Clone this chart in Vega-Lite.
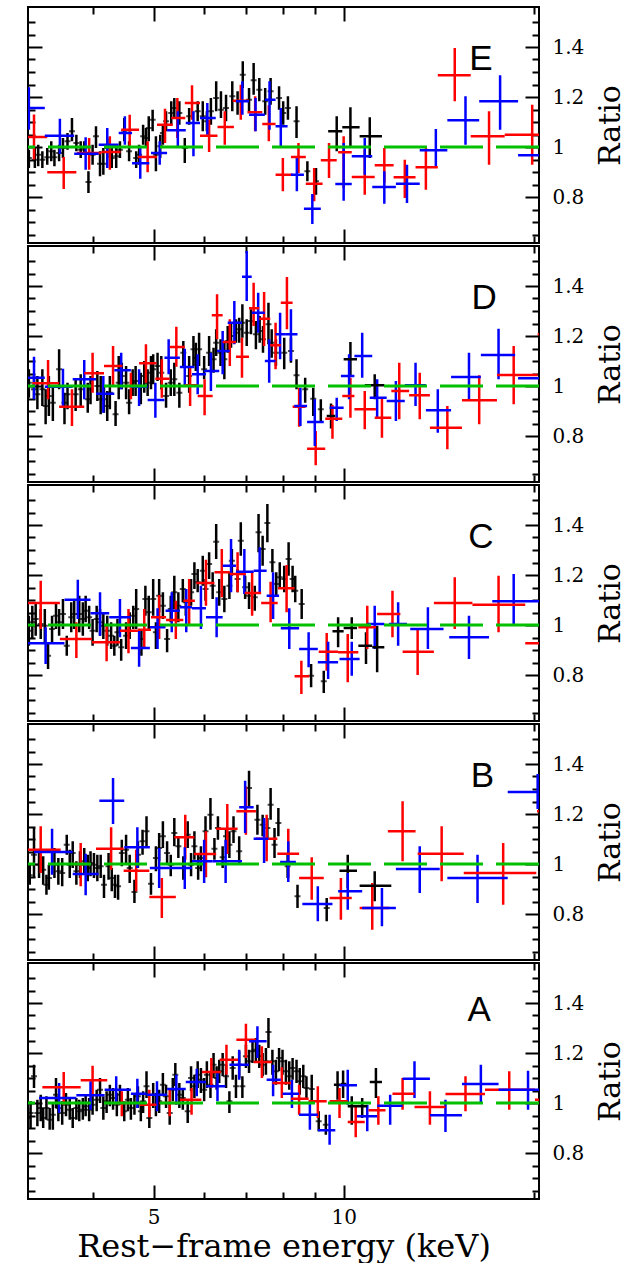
{
"$schema":"https://vega.github.io/schema/vega-lite/v6.json",
"background":"white",
"padding":{"left":25,"top":5,"right":5,"bottom":0},
"spacing":3,
"bounds":"flush",
"config":{"view":{"stroke":"#000000","strokeWidth":2},"axis":{"grid":false,"domain":false}},
"datasets":{
"E":[
{"s":"k","x":3.17,"y":0.956,"ylo":0.916,"yhi":0.989},{"s":"k","x":3.24,"y":0.949,"ylo":0.916,"yhi":0.996},{"s":"k","x":3.28,"y":0.969,"ylo":0.923,"yhi":1.009},{"s":"k","x":3.33,"y":0.949,"ylo":0.916,"yhi":0.983},{"s":"k","x":3.39,"y":0.959,"ylo":0.929,"yhi":0.996},{"s":"k","x":3.44,"y":0.983,"ylo":0.943,"yhi":1.023},{"s":"k","x":3.48,"y":0.959,"ylo":0.923,"yhi":0.989},{"s":"k","x":3.54,"y":0.976,"ylo":0.943,"yhi":1.009},{"s":"k","x":3.59,"y":0.996,"ylo":0.956,"yhi":1.036},{"s":"k","x":3.65,"y":1.023,"ylo":0.989,"yhi":1.056},{"s":"k","x":3.71,"y":1.063,"ylo":1.023,"yhi":1.116},{"s":"k","x":3.77,"y":1.016,"ylo":0.983,"yhi":1.049},{"s":"k","x":3.83,"y":0.989,"ylo":0.956,"yhi":1.023},{"s":"k","x":3.88,"y":0.996,"ylo":0.969,"yhi":1.023},{"s":"k","x":3.94,"y":0.86,"ylo":0.816,"yhi":0.903},{"s":"k","x":4.0,"y":0.969,"ylo":0.929,"yhi":1.009},{"s":"k","x":4.05,"y":1.043,"ylo":0.996,"yhi":1.083},{"s":"k","x":4.11,"y":0.933,"ylo":0.883,"yhi":0.983},{"s":"k","x":4.16,"y":0.933,"ylo":0.889,"yhi":0.996},{"s":"k","x":4.22,"y":0.996,"ylo":0.956,"yhi":1.036},{"s":"k","x":4.29,"y":0.956,"ylo":0.916,"yhi":0.996},{"s":"k","x":4.36,"y":0.963,"ylo":0.916,"yhi":1.009},{"s":"k","x":4.42,"y":0.989,"ylo":0.956,"yhi":1.023},{"s":"k","x":4.49,"y":1.065,"ylo":1.023,"yhi":1.116},{"s":"k","x":4.57,"y":0.983,"ylo":0.943,"yhi":1.023},{"s":"k","x":4.69,"y":0.956,"ylo":0.916,"yhi":0.983},{"s":"k","x":4.74,"y":0.969,"ylo":0.929,"yhi":1.009},{"s":"k","x":4.81,"y":1.043,"ylo":1.009,"yhi":1.089},{"s":"k","x":4.86,"y":1.036,"ylo":0.996,"yhi":1.076},{"s":"k","x":4.91,"y":1.076,"ylo":1.023,"yhi":1.123},{"s":"k","x":4.98,"y":1.109,"ylo":1.063,"yhi":1.149},{"s":"k","x":5.04,"y":0.969,"ylo":0.903,"yhi":1.043},{"s":"k","x":5.12,"y":1.003,"ylo":0.956,"yhi":1.049},{"s":"k","x":5.17,"y":1.056,"ylo":1.009,"yhi":1.089},{"s":"k","x":5.23,"y":1.103,"ylo":1.063,"yhi":1.143},{"s":"k","x":5.33,"y":1.136,"ylo":1.089,"yhi":1.183},{"s":"k","x":5.39,"y":1.156,"ylo":1.116,"yhi":1.196},{"s":"k","x":5.49,"y":1.136,"ylo":1.089,"yhi":1.183},{"s":"k","x":5.6,"y":0.996,"ylo":0.936,"yhi":1.036},{"s":"k","x":5.69,"y":1.123,"ylo":1.089,"yhi":1.156},{"s":"k","x":5.87,"y":1.143,"ylo":1.103,"yhi":1.183},{"s":"k","x":5.98,"y":1.123,"ylo":1.063,"yhi":1.183},{"s":"k","x":6.07,"y":1.103,"ylo":1.063,"yhi":1.143},{"s":"k","x":6.16,"y":1.143,"ylo":1.089,"yhi":1.196},{"s":"k","x":6.28,"y":1.196,"ylo":1.143,"yhi":1.263},{"s":"k","x":6.39,"y":1.149,"ylo":1.116,"yhi":1.223},{"s":"k","x":6.51,"y":1.156,"ylo":1.103,"yhi":1.209},{"s":"k","x":6.66,"y":1.203,"ylo":1.143,"yhi":1.263},{"s":"k","x":6.79,"y":1.183,"ylo":1.129,"yhi":1.223},{"s":"k","x":6.92,"y":1.289,"ylo":1.236,"yhi":1.343},{"s":"k","x":7.08,"y":1.189,"ylo":1.143,"yhi":1.236},{"s":"k","x":7.2,"y":1.267,"ylo":1.209,"yhi":1.336},{"s":"k","x":7.35,"y":1.229,"ylo":1.183,"yhi":1.276},{"s":"k","x":7.51,"y":1.183,"ylo":1.129,"yhi":1.236},{"s":"k","x":7.66,"y":1.223,"ylo":1.169,"yhi":1.276},{"s":"k","x":7.9,"y":1.196,"ylo":1.149,"yhi":1.243},{"s":"k","x":8.02,"y":1.136,"ylo":1.089,"yhi":1.183},{"s":"k","x":8.16,"y":1.156,"ylo":1.109,"yhi":1.203},{"s":"k","x":8.42,"y":1.103,"ylo":1.036,"yhi":1.163},{"s":"k","x":8.76,"y":0.903,"ylo":0.863,"yhi":0.943},{"s":"k","x":9.04,"y":0.863,"ylo":0.809,"yhi":0.916},
{"s":"k","x":9.75,"xlo":9.45,"xhi":9.95,"y":1.063,"ylo":0.983,"yhi":1.123},{"s":"k","x":10.25,"xlo":9.95,"xhi":10.6,"y":1.079,"ylo":0.996,"yhi":1.159},{"s":"k","x":11.0,"xlo":10.6,"xhi":11.5,"y":1.043,"ylo":0.956,"yhi":1.119},
{"s":"r","x":3.23,"xlo":3.1,"xhi":3.39,"y":1.04,"ylo":0.95,"yhi":1.13},{"s":"r","x":3.6,"xlo":3.39,"xhi":3.77,"y":0.899,"ylo":0.832,"yhi":0.96},{"s":"r","x":3.95,"xlo":3.78,"xhi":4.13,"y":0.976,"ylo":0.909,"yhi":1.036},{"s":"r","x":4.26,"xlo":4.13,"xhi":4.43,"y":0.98,"ylo":0.909,"yhi":1.043},{"s":"r","x":4.58,"xlo":4.44,"xhi":4.74,"y":1.069,"ylo":0.996,"yhi":1.129},{"s":"r","x":4.89,"xlo":4.72,"xhi":5.06,"y":0.96,"ylo":0.899,"yhi":1.023},{"s":"r","x":5.21,"xlo":5.06,"xhi":5.36,"y":1.089,"ylo":1.016,"yhi":1.153},{"s":"r","x":5.45,"xlo":5.33,"xhi":5.61,"y":1.116,"ylo":1.036,"yhi":1.196},{"s":"r","x":5.75,"xlo":5.6,"xhi":5.92,"y":1.176,"ylo":1.109,"yhi":1.247},{"s":"r","x":6.12,"xlo":5.92,"xhi":6.31,"y":1.045,"ylo":0.98,"yhi":1.109},{"s":"r","x":6.48,"xlo":6.31,"xhi":6.7,"y":1.08,"ylo":1.009,"yhi":1.143},{"s":"r","x":6.87,"xlo":6.67,"xhi":7.08,"y":1.185,"ylo":1.109,"yhi":1.249},{"s":"r","x":7.24,"xlo":7.04,"xhi":7.43,"y":1.139,"ylo":1.063,"yhi":1.203},{"s":"r","x":7.61,"xlo":7.43,"xhi":7.8,"y":1.092,"ylo":1.023,"yhi":1.167},{"s":"r","x":8.01,"xlo":7.8,"xhi":8.3,"y":0.889,"ylo":0.823,"yhi":0.956},{"s":"r","x":8.48,"xlo":8.25,"xhi":8.71,"y":0.96,"ylo":0.896,"yhi":1.016},{"s":"r","x":8.98,"xlo":8.71,"xhi":9.26,"y":0.853,"ylo":0.783,"yhi":0.916},{"s":"r","x":9.48,"xlo":9.2,"xhi":9.75,"y":0.947,"ylo":0.876,"yhi":1.016},{"s":"r","x":10.0,"xlo":9.8,"xhi":10.3,"y":0.979,"ylo":0.836,"yhi":1.043},{"s":"r","x":10.8,"xlo":10.3,"xhi":11.2,"y":0.88,"ylo":0.809,"yhi":0.989},{"s":"r","x":11.6,"xlo":11.2,"xhi":12.0,"y":0.927,"ylo":0.856,"yhi":0.996},{"s":"r","x":12.5,"xlo":12.0,"xhi":13.0,"y":0.879,"ylo":0.796,"yhi":0.949},{"s":"r","x":13.5,"xlo":13.0,"xhi":14.1,"y":0.919,"ylo":0.829,"yhi":0.996},{"s":"r","x":15.0,"xlo":14.1,"xhi":15.9,"y":1.287,"ylo":1.183,"yhi":1.396},{"s":"r","x":17.0,"xlo":15.9,"xhi":18.0,"y":1.043,"ylo":0.929,"yhi":1.143},{"s":"r","x":19.9,"xlo":18.0,"xhi":21.5,"y":1.049,"ylo":0.929,"yhi":1.169},
{"s":"b","x":3.17,"xlo":3.0,"xhi":3.36,"y":1.156,"ylo":1.069,"yhi":1.239},{"s":"b","x":3.55,"xlo":3.36,"xhi":3.74,"y":1.045,"ylo":0.972,"yhi":1.113},{"s":"b","x":3.9,"xlo":3.74,"xhi":4.09,"y":0.973,"ylo":0.909,"yhi":1.039},{"s":"b","x":4.22,"xlo":4.09,"xhi":4.4,"y":1.009,"ylo":0.916,"yhi":1.076},{"s":"b","x":4.5,"xlo":4.4,"xhi":4.62,"y":1.056,"ylo":1.009,"yhi":1.123},{"s":"b","x":4.76,"xlo":4.62,"xhi":4.92,"y":0.935,"ylo":0.873,"yhi":1.0},{"s":"b","x":5.11,"xlo":4.95,"xhi":5.25,"y":0.976,"ylo":0.929,"yhi":1.023},{"s":"b","x":5.46,"xlo":5.25,"xhi":5.62,"y":1.067,"ylo":0.996,"yhi":1.143},{"s":"b","x":5.78,"xlo":5.62,"xhi":5.92,"y":1.096,"ylo":0.963,"yhi":1.143},{"s":"b","x":6.08,"xlo":5.92,"xhi":6.27,"y":1.116,"ylo":1.049,"yhi":1.176},{"s":"b","x":6.91,"xlo":6.75,"xhi":7.08,"y":1.183,"ylo":1.129,"yhi":1.263},{"s":"b","x":7.25,"xlo":7.08,"xhi":7.5,"y":1.129,"ylo":1.063,"yhi":1.196},{"s":"b","x":7.63,"xlo":7.5,"xhi":7.8,"y":1.189,"ylo":1.069,"yhi":1.263},{"s":"b","x":7.95,"xlo":7.8,"xhi":8.15,"y":1.083,"ylo":0.996,"yhi":1.156},{"s":"b","x":8.43,"xlo":8.25,"xhi":8.65,"y":0.889,"ylo":0.823,"yhi":0.956},{"s":"b","x":8.92,"xlo":8.65,"xhi":9.2,"y":0.753,"ylo":0.692,"yhi":0.812},{"s":"b","x":10.0,"xlo":9.7,"xhi":10.3,"y":0.852,"ylo":0.785,"yhi":1.016},{"s":"b","x":10.8,"xlo":10.3,"xhi":11.1,"y":0.963,"ylo":0.889,"yhi":1.036},{"s":"b","x":11.6,"xlo":11.1,"xhi":12.1,"y":0.84,"ylo":0.773,"yhi":0.903},{"s":"b","x":12.6,"xlo":12.1,"xhi":13.2,"y":0.853,"ylo":0.776,"yhi":0.929},{"s":"b","x":14.0,"xlo":13.2,"xhi":14.6,"y":0.987,"ylo":0.916,"yhi":1.072},{"s":"b","x":15.6,"xlo":14.6,"xhi":16.4,"y":1.107,"ylo":1.009,"yhi":1.203},{"s":"b","x":17.7,"xlo":16.4,"xhi":18.9,"y":1.183,"ylo":1.069,"yhi":1.287},{"s":"b","x":21.0,"xlo":18.9,"xhi":23.0,"y":0.967,"ylo":0.9,"yhi":1.03}
],
"D":[
{"s":"k","x":3.17,"y":1.013,"ylo":0.953,"yhi":1.067},{"s":"k","x":3.23,"y":0.987,"ylo":0.947,"yhi":1.04},{"s":"k","x":3.27,"y":0.967,"ylo":0.907,"yhi":1.04},{"s":"k","x":3.33,"y":0.987,"ylo":0.92,"yhi":1.067},{"s":"k","x":3.37,"y":0.92,"ylo":0.847,"yhi":0.987},{"s":"k","x":3.41,"y":0.96,"ylo":0.88,"yhi":1.04},{"s":"k","x":3.46,"y":0.933,"ylo":0.86,"yhi":1.0},{"s":"k","x":3.54,"y":1.067,"ylo":0.987,"yhi":1.147},{"s":"k","x":3.61,"y":0.933,"ylo":0.847,"yhi":0.973},{"s":"k","x":3.65,"y":0.967,"ylo":0.907,"yhi":1.013},{"s":"k","x":3.76,"y":0.967,"ylo":0.9,"yhi":1.027},{"s":"k","x":3.83,"y":0.987,"ylo":0.92,"yhi":1.047},{"s":"k","x":3.93,"y":0.947,"ylo":0.893,"yhi":1.013},{"s":"k","x":3.97,"y":0.987,"ylo":0.927,"yhi":1.04},{"s":"k","x":4.07,"y":1.0,"ylo":0.94,"yhi":1.06},{"s":"k","x":4.12,"y":0.947,"ylo":0.887,"yhi":1.04},{"s":"k","x":4.17,"y":0.947,"ylo":0.893,"yhi":1.0},{"s":"k","x":4.22,"y":0.92,"ylo":0.86,"yhi":0.98},{"s":"k","x":4.26,"y":0.973,"ylo":0.907,"yhi":1.04},{"s":"k","x":4.35,"y":0.887,"ylo":0.84,"yhi":0.94},{"s":"k","x":4.4,"y":1.013,"ylo":0.947,"yhi":1.12},{"s":"k","x":4.45,"y":1.04,"ylo":0.987,"yhi":1.093},{"s":"k","x":4.52,"y":1.013,"ylo":0.947,"yhi":1.08},{"s":"k","x":4.57,"y":0.933,"ylo":0.887,"yhi":0.987},{"s":"k","x":4.63,"y":1.013,"ylo":0.96,"yhi":1.067},{"s":"k","x":4.68,"y":1.02,"ylo":0.96,"yhi":1.08},{"s":"k","x":4.77,"y":1.0,"ylo":0.927,"yhi":1.053},{"s":"k","x":4.83,"y":1.04,"ylo":0.973,"yhi":1.1},{"s":"k","x":4.89,"y":1.013,"ylo":0.96,"yhi":1.067},{"s":"k","x":4.95,"y":1.053,"ylo":0.987,"yhi":1.12},{"s":"k","x":4.99,"y":1.067,"ylo":1.007,"yhi":1.127},{"s":"k","x":5.07,"y":1.08,"ylo":1.02,"yhi":1.133},{"s":"k","x":5.14,"y":1.053,"ylo":0.987,"yhi":1.12},{"s":"k","x":5.23,"y":0.96,"ylo":0.913,"yhi":1.013},{"s":"k","x":5.32,"y":1.013,"ylo":0.96,"yhi":1.067},{"s":"k","x":5.39,"y":1.027,"ylo":0.96,"yhi":1.093},{"s":"k","x":5.49,"y":0.973,"ylo":0.913,"yhi":1.013},{"s":"k","x":5.57,"y":1.133,"ylo":1.08,"yhi":1.18},{"s":"k","x":5.69,"y":1.04,"ylo":0.973,"yhi":1.12},{"s":"k","x":5.78,"y":1.147,"ylo":1.08,"yhi":1.2},{"s":"k","x":5.83,"y":1.113,"ylo":1.06,"yhi":1.173},{"s":"k","x":5.9,"y":1.147,"ylo":1.08,"yhi":1.213},{"s":"k","x":6.01,"y":1.067,"ylo":1.027,"yhi":1.12},{"s":"k","x":6.12,"y":1.133,"ylo":1.08,"yhi":1.2},{"s":"k","x":6.22,"y":1.107,"ylo":1.053,"yhi":1.153},{"s":"k","x":6.28,"y":1.173,"ylo":1.12,"yhi":1.227},{"s":"k","x":6.38,"y":1.133,"ylo":1.08,"yhi":1.187},{"s":"k","x":6.47,"y":1.107,"ylo":1.027,"yhi":1.173},{"s":"k","x":6.55,"y":1.18,"ylo":1.133,"yhi":1.24},{"s":"k","x":6.63,"y":1.2,"ylo":1.153,"yhi":1.253},{"s":"k","x":6.75,"y":1.213,"ylo":1.173,"yhi":1.267},{"s":"k","x":6.83,"y":1.227,"ylo":1.173,"yhi":1.273},{"s":"k","x":6.91,"y":1.253,"ylo":1.193,"yhi":1.327},{"s":"k","x":7.02,"y":1.213,"ylo":1.16,"yhi":1.267},{"s":"k","x":7.13,"y":1.26,"ylo":1.207,"yhi":1.307},{"s":"k","x":7.26,"y":1.207,"ylo":1.147,"yhi":1.26},{"s":"k","x":7.36,"y":1.22,"ylo":1.173,"yhi":1.28},{"s":"k","x":7.45,"y":1.187,"ylo":1.133,"yhi":1.24},{"s":"k","x":7.6,"y":1.247,"ylo":1.167,"yhi":1.333},{"s":"k","x":7.69,"y":1.173,"ylo":1.113,"yhi":1.227},{"s":"k","x":7.81,"y":1.133,"ylo":1.08,"yhi":1.187},{"s":"k","x":8.05,"y":1.133,"ylo":1.067,"yhi":1.193},{"s":"k","x":8.25,"y":1.14,"ylo":1.093,"yhi":1.193},{"s":"k","x":8.42,"y":1.043,"ylo":0.987,"yhi":1.107},{"s":"k","x":8.69,"y":0.987,"ylo":0.933,"yhi":1.033},{"s":"k","x":8.95,"y":0.949,"ylo":0.88,"yhi":0.993},{"s":"k","x":9.2,"y":0.907,"ylo":0.86,"yhi":0.947},
{"s":"k","x":9.55,"xlo":9.4,"xhi":9.7,"y":0.88,"ylo":0.83,"yhi":0.93},{"s":"k","x":10.25,"xlo":10.0,"xhi":10.5,"y":1.107,"ylo":1.04,"yhi":1.176},{"s":"k","x":11.2,"xlo":10.8,"xhi":11.6,"y":1.003,"ylo":0.947,"yhi":1.047},
{"s":"r","x":3.4,"xlo":3.21,"xhi":3.54,"y":1.011,"ylo":0.947,"yhi":1.104},{"s":"r","x":3.71,"xlo":3.54,"xhi":3.88,"y":0.917,"ylo":0.84,"yhi":0.987},{"s":"r","x":4.0,"xlo":3.88,"xhi":4.17,"y":1.051,"ylo":0.973,"yhi":1.133},{"s":"r","x":4.31,"xlo":4.17,"xhi":4.46,"y":1.08,"ylo":1.0,"yhi":1.16},{"s":"r","x":4.6,"xlo":4.5,"xhi":4.75,"y":1.0,"ylo":0.947,"yhi":1.053},{"s":"r","x":4.86,"xlo":4.74,"xhi":5.05,"y":1.091,"ylo":1.013,"yhi":1.167},{"s":"r","x":5.15,"xlo":5.03,"xhi":5.3,"y":1.029,"ylo":0.953,"yhi":1.107},{"s":"r","x":5.43,"xlo":5.3,"xhi":5.6,"y":1.156,"ylo":1.077,"yhi":1.237},{"s":"r","x":5.71,"xlo":5.6,"xhi":5.87,"y":1.003,"ylo":0.92,"yhi":1.08},{"s":"r","x":6.02,"xlo":5.87,"xhi":6.2,"y":0.96,"ylo":0.883,"yhi":1.027},{"s":"r","x":6.3,"xlo":6.18,"xhi":6.43,"y":1.283,"ylo":1.187,"yhi":1.367},{"s":"r","x":6.6,"xlo":6.43,"xhi":6.75,"y":1.176,"ylo":1.08,"yhi":1.267},{"s":"r","x":6.9,"xlo":6.75,"xhi":7.08,"y":1.117,"ylo":1.033,"yhi":1.193},{"s":"r","x":7.2,"xlo":7.08,"xhi":7.35,"y":1.311,"ylo":1.24,"yhi":1.413},{"s":"r","x":7.48,"xlo":7.35,"xhi":7.65,"y":1.269,"ylo":1.16,"yhi":1.376},{"s":"r","x":7.8,"xlo":7.65,"xhi":7.95,"y":1.163,"ylo":1.067,"yhi":1.253},{"s":"r","x":8.13,"xlo":7.95,"xhi":8.3,"y":1.333,"ylo":1.227,"yhi":1.436},{"s":"r","x":8.5,"xlo":8.3,"xhi":8.7,"y":0.917,"ylo":0.837,"yhi":0.993},{"s":"r","x":9.03,"xlo":8.75,"xhi":9.35,"y":0.749,"ylo":0.683,"yhi":0.82},{"s":"r","x":9.6,"xlo":9.35,"xhi":9.95,"y":0.869,"ylo":0.789,"yhi":0.924},{"s":"r","x":10.25,"xlo":9.95,"xhi":10.4,"y":0.96,"ylo":0.873,"yhi":1.033},{"s":"r","x":10.8,"xlo":10.4,"xhi":11.25,"y":0.907,"ylo":0.827,"yhi":0.98},{"s":"r","x":11.5,"xlo":11.2,"xhi":11.9,"y":0.873,"ylo":0.793,"yhi":0.953},{"s":"r","x":12.25,"xlo":11.9,"xhi":12.7,"y":0.98,"ylo":0.867,"yhi":1.093},{"s":"r","x":13.2,"xlo":12.7,"xhi":13.7,"y":0.963,"ylo":0.867,"yhi":1.053},{"s":"r","x":14.6,"xlo":13.7,"xhi":15.4,"y":0.833,"ylo":0.747,"yhi":0.92},{"s":"r","x":16.4,"xlo":15.4,"xhi":17.5,"y":0.943,"ylo":0.847,"yhi":1.043},{"s":"r","x":18.6,"xlo":17.5,"xhi":20.3,"y":1.044,"ylo":0.927,"yhi":1.16},{"s":"r","x":21.5,"xlo":20.3,"xhi":23.0,"y":1.207,"ylo":1.1,"yhi":1.3},
{"s":"b","x":3.23,"xlo":3.1,"xhi":3.36,"y":1.033,"ylo":0.947,"yhi":1.117},{"s":"b","x":3.59,"xlo":3.36,"xhi":3.72,"y":0.997,"ylo":0.913,"yhi":1.069},{"s":"b","x":3.88,"xlo":3.72,"xhi":4.05,"y":1.027,"ylo":0.947,"yhi":1.104},{"s":"b","x":4.16,"xlo":4.05,"xhi":4.33,"y":0.969,"ylo":0.893,"yhi":1.04},{"s":"b","x":4.44,"xlo":4.33,"xhi":4.6,"y":1.063,"ylo":0.987,"yhi":1.133},{"s":"b","x":4.74,"xlo":4.6,"xhi":4.89,"y":0.997,"ylo":0.92,"yhi":1.067},{"s":"b","x":5.03,"xlo":4.89,"xhi":5.2,"y":0.944,"ylo":0.873,"yhi":1.013},{"s":"b","x":5.28,"xlo":5.2,"xhi":5.5,"y":1.113,"ylo":1.047,"yhi":1.187},{"s":"b","x":5.6,"xlo":5.5,"xhi":5.8,"y":1.076,"ylo":1.0,"yhi":1.149},{"s":"b","x":5.87,"xlo":5.75,"xhi":6.05,"y":1.047,"ylo":0.967,"yhi":1.127},{"s":"b","x":6.16,"xlo":6.0,"xhi":6.35,"y":1.06,"ylo":0.98,"yhi":1.133},{"s":"b","x":6.43,"xlo":6.3,"xhi":6.6,"y":1.14,"ylo":1.047,"yhi":1.22},{"s":"b","x":6.71,"xlo":6.55,"xhi":6.9,"y":1.253,"ylo":1.167,"yhi":1.34},{"s":"b","x":7.02,"xlo":6.9,"xhi":7.15,"y":1.437,"ylo":1.34,"yhi":1.54},{"s":"b","x":7.32,"xlo":7.15,"xhi":7.5,"y":1.293,"ylo":1.213,"yhi":1.373},{"s":"b","x":7.62,"xlo":7.5,"xhi":7.8,"y":1.1,"ylo":1.013,"yhi":1.187},{"s":"b","x":7.93,"xlo":7.8,"xhi":8.1,"y":1.207,"ylo":1.107,"yhi":1.293},{"s":"b","x":8.25,"xlo":8.1,"xhi":8.45,"y":1.207,"ylo":1.1,"yhi":1.307},{"s":"b","x":8.54,"xlo":8.35,"xhi":8.75,"y":0.92,"ylo":0.84,"yhi":0.993},{"s":"b","x":9.0,"xlo":8.75,"xhi":9.3,"y":0.856,"ylo":0.76,"yhi":0.947},{"s":"b","x":9.75,"xlo":9.5,"xhi":10.0,"y":0.913,"ylo":0.86,"yhi":0.953},{"s":"b","x":10.2,"xlo":9.9,"xhi":10.4,"y":1.04,"ylo":0.947,"yhi":1.127},{"s":"b","x":10.7,"xlo":10.4,"xhi":11.1,"y":1.12,"ylo":1.033,"yhi":1.213},{"s":"b","x":11.3,"xlo":11.0,"xhi":11.7,"y":0.953,"ylo":0.873,"yhi":1.027},{"s":"b","x":12.1,"xlo":11.7,"xhi":12.5,"y":0.94,"ylo":0.86,"yhi":1.02},{"s":"b","x":13.0,"xlo":12.5,"xhi":13.5,"y":1.003,"ylo":0.92,"yhi":1.093},{"s":"b","x":14.1,"xlo":13.5,"xhi":14.8,"y":0.903,"ylo":0.813,"yhi":0.987},{"s":"b","x":15.8,"xlo":14.8,"xhi":16.5,"y":1.036,"ylo":0.947,"yhi":1.133},{"s":"b","x":17.6,"xlo":16.5,"xhi":18.7,"y":1.124,"ylo":1.027,"yhi":1.229},{"s":"b","x":21.0,"xlo":18.9,"xhi":23.0,"y":1.031,"ylo":0.95,"yhi":1.11}
],
"C":[
{"s":"k","x":3.17,"y":0.977,"ylo":0.917,"yhi":1.037},{"s":"k","x":3.21,"y":1.011,"ylo":0.944,"yhi":1.077},{"s":"k","x":3.25,"y":1.024,"ylo":0.957,"yhi":1.091},{"s":"k","x":3.31,"y":1.004,"ylo":0.944,"yhi":1.064},{"s":"k","x":3.36,"y":0.997,"ylo":0.931,"yhi":1.064},{"s":"k","x":3.4,"y":0.877,"ylo":0.824,"yhi":0.931},{"s":"k","x":3.45,"y":0.984,"ylo":0.931,"yhi":1.037},{"s":"k","x":3.5,"y":1.037,"ylo":0.984,"yhi":1.091},{"s":"k","x":3.54,"y":1.011,"ylo":0.957,"yhi":1.064},{"s":"k","x":3.59,"y":1.044,"ylo":0.984,"yhi":1.104},{"s":"k","x":3.64,"y":0.917,"ylo":0.877,"yhi":0.957},{"s":"k","x":3.7,"y":1.031,"ylo":0.971,"yhi":1.091},{"s":"k","x":3.74,"y":1.044,"ylo":0.984,"yhi":1.104},{"s":"k","x":3.81,"y":1.044,"ylo":0.971,"yhi":1.117},{"s":"k","x":3.86,"y":1.024,"ylo":0.957,"yhi":1.091},{"s":"k","x":3.9,"y":1.057,"ylo":1.011,"yhi":1.117},{"s":"k","x":3.95,"y":1.031,"ylo":0.984,"yhi":1.077},{"s":"k","x":4.0,"y":0.977,"ylo":0.917,"yhi":1.024},{"s":"k","x":4.06,"y":1.024,"ylo":0.971,"yhi":1.077},{"s":"k","x":4.11,"y":1.011,"ylo":0.957,"yhi":1.064},{"s":"k","x":4.16,"y":0.997,"ylo":0.944,"yhi":1.051},{"s":"k","x":4.22,"y":0.977,"ylo":0.917,"yhi":1.037},{"s":"k","x":4.28,"y":0.957,"ylo":0.904,"yhi":1.011},{"s":"k","x":4.33,"y":0.917,"ylo":0.877,"yhi":0.957},{"s":"k","x":4.38,"y":0.971,"ylo":0.917,"yhi":1.024},{"s":"k","x":4.44,"y":0.911,"ylo":0.857,"yhi":0.944},{"s":"k","x":4.52,"y":0.957,"ylo":0.904,"yhi":1.011},{"s":"k","x":4.58,"y":0.997,"ylo":0.944,"yhi":1.051},{"s":"k","x":4.64,"y":1.037,"ylo":0.984,"yhi":1.077},{"s":"k","x":4.69,"y":1.064,"ylo":0.984,"yhi":1.144},{"s":"k","x":4.78,"y":0.944,"ylo":0.877,"yhi":0.984},{"s":"k","x":4.85,"y":1.104,"ylo":1.037,"yhi":1.157},{"s":"k","x":4.91,"y":1.051,"ylo":0.984,"yhi":1.117},{"s":"k","x":4.99,"y":1.104,"ylo":1.037,"yhi":1.184},{"s":"k","x":5.04,"y":0.971,"ylo":0.904,"yhi":1.011},{"s":"k","x":5.1,"y":1.117,"ylo":1.051,"yhi":1.184},{"s":"k","x":5.17,"y":1.077,"ylo":1.024,"yhi":1.131},{"s":"k","x":5.25,"y":0.944,"ylo":0.891,"yhi":0.984},{"s":"k","x":5.32,"y":1.064,"ylo":1.011,"yhi":1.117},{"s":"k","x":5.39,"y":1.131,"ylo":1.064,"yhi":1.197},{"s":"k","x":5.47,"y":1.077,"ylo":1.011,"yhi":1.131},{"s":"k","x":5.56,"y":1.144,"ylo":1.091,"yhi":1.184},{"s":"k","x":5.62,"y":1.091,"ylo":1.037,"yhi":1.144},{"s":"k","x":5.73,"y":1.131,"ylo":1.077,"yhi":1.184},{"s":"k","x":5.8,"y":1.204,"ylo":1.144,"yhi":1.251},{"s":"k","x":5.87,"y":1.171,"ylo":1.131,"yhi":1.224},{"s":"k","x":5.98,"y":1.217,"ylo":1.157,"yhi":1.277},{"s":"k","x":6.04,"y":1.144,"ylo":1.097,"yhi":1.184},{"s":"k","x":6.12,"y":1.244,"ylo":1.184,"yhi":1.291},{"s":"k","x":6.2,"y":1.157,"ylo":1.104,"yhi":1.211},{"s":"k","x":6.28,"y":1.333,"ylo":1.264,"yhi":1.404},{"s":"k","x":6.35,"y":1.131,"ylo":1.077,"yhi":1.184},{"s":"k","x":6.47,"y":1.104,"ylo":1.051,"yhi":1.157},{"s":"k","x":6.59,"y":1.157,"ylo":1.104,"yhi":1.211},{"s":"k","x":6.65,"y":1.257,"ylo":1.197,"yhi":1.304},{"s":"k","x":6.79,"y":1.184,"ylo":1.131,"yhi":1.224},{"s":"k","x":6.87,"y":1.337,"ylo":1.277,"yhi":1.411},{"s":"k","x":6.98,"y":1.151,"ylo":1.104,"yhi":1.197},{"s":"k","x":7.08,"y":1.117,"ylo":1.064,"yhi":1.171},{"s":"k","x":7.23,"y":1.111,"ylo":1.057,"yhi":1.157},{"s":"k","x":7.33,"y":1.371,"ylo":1.291,"yhi":1.444},{"s":"k","x":7.44,"y":1.304,"ylo":1.237,"yhi":1.357},{"s":"k","x":7.57,"y":1.408,"ylo":1.331,"yhi":1.484},{"s":"k","x":7.71,"y":1.251,"ylo":1.211,"yhi":1.304},{"s":"k","x":7.82,"y":1.164,"ylo":1.117,"yhi":1.211},{"s":"k","x":7.92,"y":1.191,"ylo":1.144,"yhi":1.251},{"s":"k","x":8.05,"y":1.184,"ylo":1.131,"yhi":1.237},{"s":"k","x":8.18,"y":1.264,"ylo":1.197,"yhi":1.331},{"s":"k","x":8.3,"y":1.184,"ylo":1.131,"yhi":1.237},{"s":"k","x":8.38,"y":1.137,"ylo":1.091,"yhi":1.197},{"s":"k","x":8.58,"y":1.084,"ylo":1.024,"yhi":1.144},{"s":"k","x":8.88,"y":0.797,"ylo":0.751,"yhi":0.844},{"s":"k","x":9.3,"y":0.775,"ylo":0.728,"yhi":0.817},
{"s":"k","x":9.8,"xlo":9.6,"xhi":10.0,"y":0.975,"ylo":0.911,"yhi":1.031},{"s":"k","x":10.3,"xlo":10.0,"xhi":10.5,"y":0.988,"ylo":0.944,"yhi":1.031},{"s":"k","x":10.85,"xlo":10.55,"xhi":11.1,"y":0.917,"ylo":0.844,"yhi":0.971},{"s":"k","x":11.3,"xlo":11.1,"xhi":11.6,"y":0.911,"ylo":0.811,"yhi":0.997},
{"s":"r","x":3.31,"xlo":3.1,"xhi":3.55,"y":1.088,"ylo":0.984,"yhi":1.177},{"s":"r","x":3.77,"xlo":3.55,"xhi":3.99,"y":0.944,"ylo":0.868,"yhi":1.011},{"s":"r","x":4.21,"xlo":3.99,"xhi":4.42,"y":0.931,"ylo":0.855,"yhi":1.004},{"s":"r","x":4.56,"xlo":4.42,"xhi":4.72,"y":0.977,"ylo":0.887,"yhi":1.064},{"s":"r","x":4.83,"xlo":4.72,"xhi":4.95,"y":0.981,"ylo":0.904,"yhi":1.064},{"s":"r","x":5.1,"xlo":4.95,"xhi":5.23,"y":1.031,"ylo":0.944,"yhi":1.12},{"s":"r","x":5.42,"xlo":5.23,"xhi":5.57,"y":1.02,"ylo":0.944,"yhi":1.097},{"s":"r","x":5.69,"xlo":5.57,"xhi":5.81,"y":1.097,"ylo":1.004,"yhi":1.184},{"s":"r","x":6.05,"xlo":5.84,"xhi":6.24,"y":1.168,"ylo":1.077,"yhi":1.261},{"s":"r","x":6.41,"xlo":6.24,"xhi":6.6,"y":1.211,"ylo":1.111,"yhi":1.304},{"s":"r","x":6.79,"xlo":6.6,"xhi":7.0,"y":1.204,"ylo":1.131,"yhi":1.291},{"s":"r","x":7.16,"xlo":6.97,"xhi":7.4,"y":1.128,"ylo":1.037,"yhi":1.217},{"s":"r","x":7.66,"xlo":7.4,"xhi":7.86,"y":1.088,"ylo":1.011,"yhi":1.173},{"s":"r","x":8.12,"xlo":7.87,"xhi":8.36,"y":1.147,"ylo":1.051,"yhi":1.24},{"s":"r","x":8.57,"xlo":8.36,"xhi":8.82,"y":0.795,"ylo":0.724,"yhi":0.857},{"s":"r","x":9.4,"xlo":9.13,"xhi":9.8,"y":0.893,"ylo":0.817,"yhi":0.968},{"s":"r","x":10.15,"xlo":9.8,"xhi":10.55,"y":0.891,"ylo":0.771,"yhi":0.964},{"s":"r","x":10.9,"xlo":10.55,"xhi":11.25,"y":0.991,"ylo":0.904,"yhi":1.077},{"s":"r","x":11.95,"xlo":11.3,"xhi":12.3,"y":1.044,"ylo":0.951,"yhi":1.137},{"s":"r","x":13.1,"xlo":12.4,"xhi":13.9,"y":0.893,"ylo":0.8,"yhi":0.984},{"s":"r","x":15.0,"xlo":13.9,"xhi":16.0,"y":1.088,"ylo":0.984,"yhi":1.191},{"s":"r","x":17.6,"xlo":16.0,"xhi":19.4,"y":1.081,"ylo":0.971,"yhi":1.197},{"s":"r","x":21.5,"xlo":19.4,"xhi":23.0,"y":0.927,"ylo":0.84,"yhi":1.01},
{"s":"b","x":3.37,"xlo":3.1,"xhi":3.61,"y":0.927,"ylo":0.844,"yhi":0.991},{"s":"b","x":3.79,"xlo":3.61,"xhi":3.97,"y":1.101,"ylo":1.024,"yhi":1.181},{"s":"b","x":4.11,"xlo":3.97,"xhi":4.25,"y":1.047,"ylo":0.957,"yhi":1.131},{"s":"b","x":4.42,"xlo":4.25,"xhi":4.6,"y":1.031,"ylo":0.951,"yhi":1.104},{"s":"b","x":4.74,"xlo":4.6,"xhi":4.93,"y":0.908,"ylo":0.833,"yhi":0.977},{"s":"b","x":5.07,"xlo":4.93,"xhi":5.22,"y":0.991,"ylo":0.904,"yhi":1.067},{"s":"b","x":5.34,"xlo":5.22,"xhi":5.5,"y":1.057,"ylo":0.971,"yhi":1.131},{"s":"b","x":5.63,"xlo":5.5,"xhi":5.75,"y":1.071,"ylo":0.971,"yhi":1.144},{"s":"b","x":5.94,"xlo":5.75,"xhi":6.05,"y":1.067,"ylo":0.984,"yhi":1.157},{"s":"b","x":6.29,"xlo":6.05,"xhi":6.43,"y":1.031,"ylo":0.951,"yhi":1.111},{"s":"b","x":6.63,"xlo":6.43,"xhi":6.75,"y":1.237,"ylo":1.131,"yhi":1.344},{"s":"b","x":6.96,"xlo":6.75,"xhi":7.2,"y":1.213,"ylo":1.124,"yhi":1.304},{"s":"b","x":7.36,"xlo":7.2,"xhi":7.55,"y":1.217,"ylo":1.124,"yhi":1.311},{"s":"b","x":7.73,"xlo":7.55,"xhi":7.9,"y":1.117,"ylo":1.024,"yhi":1.211},{"s":"b","x":8.2,"xlo":7.95,"xhi":8.5,"y":0.987,"ylo":0.904,"yhi":1.067},{"s":"b","x":8.8,"xlo":8.5,"xhi":9.1,"y":0.904,"ylo":0.831,"yhi":0.971},{"s":"b","x":9.45,"xlo":9.1,"xhi":9.8,"y":0.851,"ylo":0.784,"yhi":0.933},{"s":"b","x":10.3,"xlo":9.85,"xhi":10.6,"y":0.864,"ylo":0.797,"yhi":0.933},{"s":"b","x":11.2,"xlo":10.9,"xhi":11.6,"y":1.004,"ylo":0.904,"yhi":1.077},{"s":"b","x":12.2,"xlo":11.8,"xhi":12.6,"y":1.004,"ylo":0.917,"yhi":1.091},{"s":"b","x":13.6,"xlo":12.75,"xhi":14.4,"y":0.984,"ylo":0.904,"yhi":1.071},{"s":"b","x":15.8,"xlo":14.7,"xhi":17.0,"y":0.951,"ylo":0.864,"yhi":1.037},{"s":"b","x":18.6,"xlo":17.2,"xhi":21.0,"y":1.095,"ylo":0.997,"yhi":1.204}
],
"B":[
{"s":"k","x":3.18,"y":0.955,"ylo":0.917,"yhi":0.997},{"s":"k","x":3.23,"y":1.037,"ylo":0.944,"yhi":1.144},{"s":"k","x":3.29,"y":0.997,"ylo":0.944,"yhi":1.044},{"s":"k","x":3.34,"y":0.977,"ylo":0.917,"yhi":1.031},{"s":"k","x":3.38,"y":0.917,"ylo":0.877,"yhi":0.957},{"s":"k","x":3.41,"y":0.944,"ylo":0.897,"yhi":0.997},{"s":"k","x":3.48,"y":0.997,"ylo":0.944,"yhi":1.064},{"s":"k","x":3.53,"y":0.971,"ylo":0.917,"yhi":1.024},{"s":"k","x":3.58,"y":0.964,"ylo":0.911,"yhi":1.024},{"s":"k","x":3.64,"y":1.077,"ylo":1.037,"yhi":1.117},{"s":"k","x":3.68,"y":0.997,"ylo":0.944,"yhi":1.057},{"s":"k","x":3.72,"y":1.044,"ylo":0.984,"yhi":1.091},{"s":"k","x":3.77,"y":0.971,"ylo":0.917,"yhi":1.011},{"s":"k","x":3.82,"y":0.997,"ylo":0.944,"yhi":1.051},{"s":"k","x":3.88,"y":1.011,"ylo":0.957,"yhi":1.064},{"s":"k","x":3.93,"y":0.984,"ylo":0.931,"yhi":1.037},{"s":"k","x":3.97,"y":1.004,"ylo":0.951,"yhi":1.051},{"s":"k","x":4.02,"y":0.997,"ylo":0.944,"yhi":1.044},{"s":"k","x":4.07,"y":0.984,"ylo":0.931,"yhi":1.037},{"s":"k","x":4.12,"y":0.991,"ylo":0.944,"yhi":1.037},{"s":"k","x":4.17,"y":0.917,"ylo":0.864,"yhi":0.957},{"s":"k","x":4.24,"y":0.991,"ylo":0.937,"yhi":1.044},{"s":"k","x":4.29,"y":0.944,"ylo":0.891,"yhi":0.984},{"s":"k","x":4.34,"y":0.917,"ylo":0.864,"yhi":0.957},{"s":"k","x":4.39,"y":0.911,"ylo":0.857,"yhi":0.957},{"s":"k","x":4.45,"y":1.044,"ylo":0.991,"yhi":1.097},{"s":"k","x":4.52,"y":1.057,"ylo":1.004,"yhi":1.117},{"s":"k","x":4.58,"y":0.984,"ylo":0.924,"yhi":1.037},{"s":"k","x":4.66,"y":0.888,"ylo":0.844,"yhi":0.937},{"s":"k","x":4.72,"y":1.037,"ylo":0.984,"yhi":1.091},{"s":"k","x":4.8,"y":1.091,"ylo":1.037,"yhi":1.137},{"s":"k","x":4.87,"y":1.131,"ylo":1.071,"yhi":1.191},{"s":"k","x":4.95,"y":0.921,"ylo":0.877,"yhi":0.964},{"s":"k","x":5.04,"y":1.024,"ylo":0.971,"yhi":1.071},{"s":"k","x":5.1,"y":1.064,"ylo":1.011,"yhi":1.124},{"s":"k","x":5.17,"y":1.111,"ylo":1.064,"yhi":1.171},{"s":"k","x":5.25,"y":1.044,"ylo":0.997,"yhi":1.091},{"s":"k","x":5.32,"y":0.997,"ylo":0.951,"yhi":1.037},{"s":"k","x":5.39,"y":1.124,"ylo":1.071,"yhi":1.184},{"s":"k","x":5.47,"y":1.071,"ylo":1.024,"yhi":1.111},{"s":"k","x":5.57,"y":0.984,"ylo":0.937,"yhi":1.031},{"s":"k","x":5.66,"y":1.117,"ylo":1.064,"yhi":1.171},{"s":"k","x":5.73,"y":0.997,"ylo":0.951,"yhi":1.044},{"s":"k","x":5.8,"y":1.071,"ylo":1.017,"yhi":1.131},{"s":"k","x":5.88,"y":0.984,"ylo":0.937,"yhi":1.037},{"s":"k","x":5.94,"y":1.024,"ylo":0.971,"yhi":1.071},{"s":"k","x":6.04,"y":1.131,"ylo":1.071,"yhi":1.191},{"s":"k","x":6.15,"y":1.197,"ylo":1.137,"yhi":1.264},{"s":"k","x":6.24,"y":1.061,"ylo":1.017,"yhi":1.104},{"s":"k","x":6.32,"y":1.144,"ylo":1.097,"yhi":1.191},{"s":"k","x":6.43,"y":1.027,"ylo":0.984,"yhi":1.071},{"s":"k","x":6.51,"y":1.111,"ylo":1.064,"yhi":1.144},{"s":"k","x":6.59,"y":1.077,"ylo":1.024,"yhi":1.131},{"s":"k","x":6.69,"y":1.131,"ylo":1.084,"yhi":1.191},{"s":"k","x":6.83,"y":1.051,"ylo":0.997,"yhi":1.111},{"s":"k","x":7.08,"y":1.304,"ylo":1.231,"yhi":1.373},{"s":"k","x":7.3,"y":1.177,"ylo":1.117,"yhi":1.237},{"s":"k","x":7.44,"y":1.157,"ylo":1.111,"yhi":1.197},{"s":"k","x":7.57,"y":1.144,"ylo":1.097,"yhi":1.184},{"s":"k","x":7.66,"y":1.237,"ylo":1.177,"yhi":1.304},{"s":"k","x":7.77,"y":1.077,"ylo":1.024,"yhi":1.144},{"s":"k","x":7.88,"y":1.164,"ylo":1.111,"yhi":1.224},{"s":"k","x":8.15,"y":0.991,"ylo":0.944,"yhi":1.037},{"s":"k","x":8.45,"y":0.871,"ylo":0.824,"yhi":0.917},{"s":"k","x":9.4,"y":0.824,"ylo":0.771,"yhi":0.864},
{"s":"k","x":10.15,"xlo":9.85,"xhi":10.5,"y":0.973,"ylo":0.904,"yhi":1.037},{"s":"k","x":11.2,"xlo":10.6,"xhi":11.9,"y":0.913,"ylo":0.851,"yhi":0.971},
{"s":"r","x":3.31,"xlo":3.1,"xhi":3.56,"y":1.057,"ylo":0.964,"yhi":1.151},{"s":"r","x":3.83,"xlo":3.72,"xhi":3.95,"y":1.0,"ylo":0.911,"yhi":1.084},{"s":"r","x":4.28,"xlo":4.05,"xhi":4.48,"y":1.061,"ylo":0.977,"yhi":1.147},{"s":"r","x":4.69,"xlo":4.48,"xhi":4.92,"y":0.973,"ylo":0.891,"yhi":1.057},{"s":"r","x":5.15,"xlo":4.92,"xhi":5.42,"y":0.868,"ylo":0.784,"yhi":0.944},{"s":"r","x":5.61,"xlo":5.39,"xhi":5.8,"y":1.107,"ylo":1.017,"yhi":1.197},{"s":"r","x":6.05,"xlo":5.79,"xhi":6.28,"y":1.04,"ylo":0.947,"yhi":1.131},{"s":"r","x":6.54,"xlo":6.28,"xhi":6.79,"y":1.141,"ylo":1.04,"yhi":1.24},{"s":"r","x":7.0,"xlo":6.76,"xhi":7.26,"y":1.211,"ylo":1.117,"yhi":1.311},{"s":"r","x":7.55,"xlo":7.26,"xhi":7.85,"y":1.101,"ylo":1.011,"yhi":1.197},{"s":"r","x":8.17,"xlo":7.85,"xhi":8.5,"y":1.041,"ylo":0.944,"yhi":1.141},{"s":"r","x":8.9,"xlo":8.5,"xhi":9.3,"y":0.944,"ylo":0.857,"yhi":1.027},{"s":"r","x":9.9,"xlo":9.5,"xhi":10.3,"y":0.864,"ylo":0.777,"yhi":0.944},{"s":"r","x":11.1,"xlo":10.6,"xhi":11.8,"y":0.824,"ylo":0.737,"yhi":0.924},{"s":"r","x":12.4,"xlo":11.75,"xhi":13.0,"y":1.131,"ylo":1.011,"yhi":1.251},{"s":"r","x":14.3,"xlo":13.1,"xhi":15.5,"y":1.041,"ylo":0.931,"yhi":1.151},{"s":"r","x":17.9,"xlo":15.5,"xhi":20.2,"y":0.964,"ylo":0.837,"yhi":1.084},{"s":"r","x":22.0,"xlo":20.25,"xhi":24.0,"y":1.211,"ylo":1.1,"yhi":1.32},
{"s":"b","x":3.45,"xlo":3.23,"xhi":3.72,"y":1.048,"ylo":0.957,"yhi":1.141},{"s":"b","x":3.9,"xlo":3.72,"xhi":4.09,"y":0.96,"ylo":0.875,"yhi":1.041},{"s":"b","x":4.31,"xlo":4.1,"xhi":4.49,"y":1.253,"ylo":1.16,"yhi":1.344},{"s":"b","x":4.71,"xlo":4.49,"xhi":4.93,"y":1.067,"ylo":0.984,"yhi":1.147},{"s":"b","x":5.1,"xlo":4.93,"xhi":5.3,"y":0.984,"ylo":0.904,"yhi":1.064},{"s":"b","x":5.6,"xlo":5.3,"xhi":5.75,"y":0.984,"ylo":0.9,"yhi":1.067},{"s":"b","x":6.01,"xlo":5.75,"xhi":6.2,"y":1.011,"ylo":0.924,"yhi":1.097},{"s":"b","x":6.5,"xlo":6.2,"xhi":6.9,"y":1.011,"ylo":0.924,"yhi":1.097},{"s":"b","x":6.98,"xlo":6.83,"xhi":7.2,"y":1.227,"ylo":1.124,"yhi":1.333},{"s":"b","x":7.48,"xlo":7.2,"xhi":7.6,"y":1.101,"ylo":1.004,"yhi":1.184},{"s":"b","x":8.17,"xlo":7.93,"xhi":8.4,"y":1.008,"ylo":0.928,"yhi":1.091},{"s":"b","x":9.1,"xlo":8.6,"xhi":9.6,"y":0.84,"ylo":0.771,"yhi":0.911},{"s":"b","x":10.15,"xlo":9.8,"xhi":10.7,"y":0.891,"ylo":0.817,"yhi":0.964},{"s":"b","x":11.5,"xlo":10.7,"xhi":12.1,"y":0.824,"ylo":0.751,"yhi":0.904},{"s":"b","x":13.2,"xlo":12.1,"xhi":14.2,"y":0.98,"ylo":0.884,"yhi":1.071},{"s":"b","x":16.3,"xlo":14.6,"xhi":18.2,"y":0.944,"ylo":0.844,"yhi":1.037},{"s":"b","x":20.3,"xlo":18.2,"xhi":23.0,"y":1.288,"ylo":1.22,"yhi":1.36}
],
"A":[
{"s":"k","x":3.16,"y":0.94,"ylo":0.9,"yhi":0.98},{"s":"k","x":3.19,"y":0.96,"ylo":0.9,"yhi":1.007},{"s":"k","x":3.23,"y":1.107,"ylo":1.06,"yhi":1.153},{"s":"k","x":3.27,"y":0.96,"ylo":0.907,"yhi":1.013},{"s":"k","x":3.31,"y":0.98,"ylo":0.927,"yhi":1.033},{"s":"k","x":3.34,"y":0.94,"ylo":0.9,"yhi":0.98},{"s":"k","x":3.38,"y":0.98,"ylo":0.933,"yhi":1.027},{"s":"k","x":3.42,"y":0.933,"ylo":0.893,"yhi":0.98},{"s":"k","x":3.46,"y":0.953,"ylo":0.893,"yhi":1.0},{"s":"k","x":3.5,"y":1.033,"ylo":0.98,"yhi":1.1},{"s":"k","x":3.53,"y":0.98,"ylo":0.927,"yhi":1.027},{"s":"k","x":3.58,"y":0.96,"ylo":0.913,"yhi":1.007},{"s":"k","x":3.63,"y":0.993,"ylo":0.947,"yhi":1.04},{"s":"k","x":3.68,"y":0.973,"ylo":0.933,"yhi":1.02},{"s":"k","x":3.72,"y":0.94,"ylo":0.9,"yhi":0.98},{"s":"k","x":3.77,"y":0.98,"ylo":0.933,"yhi":1.02},{"s":"k","x":3.81,"y":0.967,"ylo":0.927,"yhi":1.013},{"s":"k","x":3.86,"y":0.973,"ylo":0.933,"yhi":1.02},{"s":"k","x":3.9,"y":0.987,"ylo":0.947,"yhi":1.033},{"s":"k","x":3.95,"y":0.973,"ylo":0.927,"yhi":1.02},{"s":"k","x":4.0,"y":0.993,"ylo":0.953,"yhi":1.033},{"s":"k","x":4.06,"y":1.013,"ylo":0.967,"yhi":1.053},{"s":"k","x":4.11,"y":1.053,"ylo":1.0,"yhi":1.1},{"s":"k","x":4.16,"y":0.98,"ylo":0.933,"yhi":1.027},{"s":"k","x":4.21,"y":1.007,"ylo":0.96,"yhi":1.047},{"s":"k","x":4.26,"y":1.033,"ylo":0.987,"yhi":1.073},{"s":"k","x":4.31,"y":1.02,"ylo":0.973,"yhi":1.06},{"s":"k","x":4.37,"y":0.993,"ylo":0.947,"yhi":1.04},{"s":"k","x":4.42,"y":1.033,"ylo":0.993,"yhi":1.073},{"s":"k","x":4.49,"y":0.967,"ylo":0.927,"yhi":1.007},{"s":"k","x":4.55,"y":1.013,"ylo":0.967,"yhi":1.06},{"s":"k","x":4.6,"y":0.98,"ylo":0.933,"yhi":1.02},{"s":"k","x":4.66,"y":1.0,"ylo":0.953,"yhi":1.04},{"s":"k","x":4.72,"y":1.027,"ylo":0.98,"yhi":1.067},{"s":"k","x":4.77,"y":0.967,"ylo":0.927,"yhi":1.007},{"s":"k","x":4.81,"y":1.007,"ylo":0.96,"yhi":1.047},{"s":"k","x":4.87,"y":1.067,"ylo":1.02,"yhi":1.127},{"s":"k","x":4.92,"y":0.94,"ylo":0.9,"yhi":0.987},{"s":"k","x":4.99,"y":1.033,"ylo":0.98,"yhi":1.08},{"s":"k","x":5.04,"y":0.993,"ylo":0.947,"yhi":1.04},{"s":"k","x":5.1,"y":1.007,"ylo":0.96,"yhi":1.053},{"s":"k","x":5.17,"y":1.073,"ylo":1.027,"yhi":1.12},{"s":"k","x":5.23,"y":1.027,"ylo":0.98,"yhi":1.073},{"s":"k","x":5.3,"y":0.96,"ylo":0.913,"yhi":1.007},{"s":"k","x":5.36,"y":1.053,"ylo":1.007,"yhi":1.1},{"s":"k","x":5.41,"y":1.113,"ylo":1.067,"yhi":1.16},{"s":"k","x":5.49,"y":1.033,"ylo":0.98,"yhi":1.08},{"s":"k","x":5.56,"y":1.02,"ylo":0.973,"yhi":1.06},{"s":"k","x":5.66,"y":0.967,"ylo":0.92,"yhi":1.007},{"s":"k","x":5.73,"y":1.1,"ylo":1.047,"yhi":1.147},{"s":"k","x":5.8,"y":1.067,"ylo":1.02,"yhi":1.113},{"s":"k","x":5.87,"y":1.113,"ylo":1.06,"yhi":1.167},{"s":"k","x":5.94,"y":1.093,"ylo":1.04,"yhi":1.14},{"s":"k","x":6.01,"y":1.053,"ylo":1.007,"yhi":1.1},{"s":"k","x":6.07,"y":1.113,"ylo":1.06,"yhi":1.167},{"s":"k","x":6.15,"y":1.073,"ylo":1.02,"yhi":1.127},{"s":"k","x":6.22,"y":1.153,"ylo":1.1,"yhi":1.2},{"s":"k","x":6.29,"y":1.1,"ylo":1.053,"yhi":1.147},{"s":"k","x":6.35,"y":1.127,"ylo":1.08,"yhi":1.173},{"s":"k","x":6.43,"y":1.153,"ylo":1.107,"yhi":1.2},{"s":"k","x":6.51,"y":1.107,"ylo":1.06,"yhi":1.153},{"s":"k","x":6.59,"y":1.007,"ylo":0.96,"yhi":1.047},{"s":"k","x":6.67,"y":1.14,"ylo":1.093,"yhi":1.187},{"s":"k","x":6.75,"y":1.067,"ylo":1.02,"yhi":1.113},{"s":"k","x":6.83,"y":1.153,"ylo":1.1,"yhi":1.207},{"s":"k","x":6.91,"y":1.067,"ylo":1.02,"yhi":1.107},{"s":"k","x":7.0,"y":1.187,"ylo":1.14,"yhi":1.233},{"s":"k","x":7.08,"y":1.167,"ylo":1.12,"yhi":1.213},{"s":"k","x":7.17,"y":1.207,"ylo":1.16,"yhi":1.253},{"s":"k","x":7.26,"y":1.213,"ylo":1.167,"yhi":1.26},{"s":"k","x":7.35,"y":1.187,"ylo":1.14,"yhi":1.233},{"s":"k","x":7.44,"y":1.153,"ylo":1.107,"yhi":1.2},{"s":"k","x":7.53,"y":1.167,"ylo":1.113,"yhi":1.22},{"s":"k","x":7.6,"y":1.284,"ylo":1.22,"yhi":1.34},{"s":"k","x":7.71,"y":1.167,"ylo":1.113,"yhi":1.213},{"s":"k","x":7.81,"y":1.127,"ylo":1.073,"yhi":1.173},{"s":"k","x":7.9,"y":1.18,"ylo":1.127,"yhi":1.22},{"s":"k","x":8.0,"y":1.167,"ylo":1.113,"yhi":1.213},{"s":"k","x":8.1,"y":1.127,"ylo":1.073,"yhi":1.173},{"s":"k","x":8.2,"y":1.107,"ylo":1.053,"yhi":1.167},{"s":"k","x":8.3,"y":1.14,"ylo":1.093,"yhi":1.18},{"s":"k","x":8.42,"y":1.127,"ylo":1.08,"yhi":1.173},{"s":"k","x":8.52,"y":1.087,"ylo":1.033,"yhi":1.14},{"s":"k","x":8.63,"y":1.107,"ylo":1.06,"yhi":1.153},{"s":"k","x":8.73,"y":1.06,"ylo":1.013,"yhi":1.107},{"s":"k","x":8.9,"y":1.056,"ylo":1.007,"yhi":1.113},{"s":"k","x":9.13,"y":0.927,"ylo":0.887,"yhi":0.967},{"s":"k","x":9.37,"y":0.913,"ylo":0.873,"yhi":0.953},
{"s":"k","x":9.78,"xlo":9.65,"xhi":9.9,"y":1.073,"ylo":1.013,"yhi":1.127},{"s":"k","x":9.98,"xlo":9.9,"xhi":10.1,"y":1.076,"ylo":1.02,"yhi":1.13},{"s":"k","x":10.3,"xlo":10.15,"xhi":10.5,"y":0.987,"ylo":0.913,"yhi":1.027},{"s":"k","x":10.7,"xlo":10.5,"xhi":10.9,"y":0.987,"ylo":0.94,"yhi":1.02},{"s":"k","x":11.25,"xlo":11.0,"xhi":11.5,"y":1.084,"ylo":1.02,"yhi":1.14},
{"s":"r","x":3.6,"xlo":3.33,"xhi":3.83,"y":1.063,"ylo":0.993,"yhi":1.124},{"s":"r","x":4.0,"xlo":3.83,"xhi":4.22,"y":1.091,"ylo":1.027,"yhi":1.149},{"s":"r","x":4.45,"xlo":4.35,"xhi":4.6,"y":1.0,"ylo":0.947,"yhi":1.047},{"s":"r","x":4.92,"xlo":4.75,"xhi":5.05,"y":0.993,"ylo":0.943,"yhi":1.053},{"s":"r","x":5.3,"xlo":5.1,"xhi":5.45,"y":1.0,"ylo":0.947,"yhi":1.053},{"s":"r","x":5.74,"xlo":5.5,"xhi":5.95,"y":1.013,"ylo":0.953,"yhi":1.06},{"s":"r","x":6.17,"xlo":5.96,"xhi":6.39,"y":1.124,"ylo":1.06,"yhi":1.18},{"s":"r","x":6.52,"xlo":6.36,"xhi":6.8,"y":1.173,"ylo":1.113,"yhi":1.233},{"s":"r","x":7.0,"xlo":6.76,"xhi":7.26,"y":1.253,"ylo":1.18,"yhi":1.317},{"s":"r","x":7.42,"xlo":7.2,"xhi":7.7,"y":1.164,"ylo":1.1,"yhi":1.227},{"s":"r","x":7.98,"xlo":7.71,"xhi":8.25,"y":1.08,"ylo":1.02,"yhi":1.143},{"s":"r","x":8.5,"xlo":8.25,"xhi":8.8,"y":1.017,"ylo":0.953,"yhi":1.073},{"s":"r","x":9.1,"xlo":8.8,"xhi":9.4,"y":1.007,"ylo":0.94,"yhi":1.067},{"s":"r","x":9.85,"xlo":9.5,"xhi":10.15,"y":1.007,"ylo":0.94,"yhi":1.06},{"s":"r","x":10.45,"xlo":10.15,"xhi":10.8,"y":0.924,"ylo":0.863,"yhi":0.987},{"s":"r","x":11.35,"xlo":10.95,"xhi":11.65,"y":0.971,"ylo":0.913,"yhi":1.027},{"s":"r","x":12.4,"xlo":11.95,"xhi":12.95,"y":1.037,"ylo":0.973,"yhi":1.1},{"s":"r","x":13.7,"xlo":12.95,"xhi":14.5,"y":0.984,"ylo":0.913,"yhi":1.047},{"s":"r","x":15.6,"xlo":14.5,"xhi":16.75,"y":1.036,"ylo":0.967,"yhi":1.107},{"s":"r","x":18.3,"xlo":16.75,"xhi":20.1,"y":1.053,"ylo":0.973,"yhi":1.127},{"s":"r","x":22.0,"xlo":20.1,"xhi":24.0,"y":1.013,"ylo":0.95,"yhi":1.08},
{"s":"b","x":3.54,"xlo":3.29,"xhi":3.77,"y":1.02,"ylo":0.96,"yhi":1.08},{"s":"b","x":3.97,"xlo":3.77,"xhi":4.18,"y":1.031,"ylo":0.973,"yhi":1.087},{"s":"b","x":4.36,"xlo":4.18,"xhi":4.6,"y":1.053,"ylo":1.0,"yhi":1.107},{"s":"b","x":4.71,"xlo":4.6,"xhi":4.87,"y":1.037,"ylo":0.98,"yhi":1.097},{"s":"b","x":5.06,"xlo":4.87,"xhi":5.25,"y":1.033,"ylo":0.967,"yhi":1.087},{"s":"b","x":5.43,"xlo":5.25,"xhi":5.62,"y":1.056,"ylo":0.993,"yhi":1.113},{"s":"b","x":5.85,"xlo":5.62,"xhi":6.05,"y":1.084,"ylo":1.027,"yhi":1.137},{"s":"b","x":6.31,"xlo":6.05,"xhi":6.5,"y":1.067,"ylo":1.007,"yhi":1.127},{"s":"b","x":6.83,"xlo":6.59,"xhi":7.08,"y":1.153,"ylo":1.093,"yhi":1.213},{"s":"b","x":7.3,"xlo":7.08,"xhi":7.55,"y":1.247,"ylo":1.18,"yhi":1.307},{"s":"b","x":7.73,"xlo":7.55,"xhi":7.95,"y":1.093,"ylo":1.027,"yhi":1.153},{"s":"b","x":8.28,"xlo":8.0,"xhi":8.5,"y":1.037,"ylo":0.98,"yhi":1.093},{"s":"b","x":8.84,"xlo":8.5,"xhi":9.1,"y":0.953,"ylo":0.893,"yhi":1.009},{"s":"b","x":9.5,"xlo":9.1,"xhi":9.7,"y":0.891,"ylo":0.833,"yhi":0.953},{"s":"b","x":10.15,"xlo":9.85,"xhi":10.5,"y":1.071,"ylo":0.993,"yhi":1.133},{"s":"b","x":10.9,"xlo":10.5,"xhi":11.3,"y":0.947,"ylo":0.887,"yhi":0.993},{"s":"b","x":11.85,"xlo":11.3,"xhi":12.4,"y":0.989,"ylo":0.913,"yhi":1.033},{"s":"b","x":12.95,"xlo":12.4,"xhi":13.7,"y":1.097,"ylo":1.02,"yhi":1.167},{"s":"b","x":14.5,"xlo":13.7,"xhi":15.4,"y":0.951,"ylo":0.884,"yhi":1.013},{"s":"b","x":16.5,"xlo":15.4,"xhi":17.6,"y":1.076,"ylo":1.0,"yhi":1.153},{"s":"b","x":19.6,"xlo":17.6,"xhi":21.5,"y":1.053,"ylo":0.973,"yhi":1.129}
],
"labels":[{"p":"E","x":16.5,"y":1.31,"t":"E"},{"p":"D","x":16.7,"y":1.31,"t":"D"},{"p":"C","x":16.5,"y":1.31,"t":"C"},{"p":"B","x":16.6,"y":1.31,"t":"B"},{"p":"A","x":16.4,"y":1.33,"t":"A"}],
"unity":[{"v":1}]
},
"vconcat":[
{"width":511,"height":236,"data":{"name":"E"},"layer":[
{"transform":[{"filter":"!isValid(datum.xlo)"}],"mark":{"type":"tick","orient":"horizontal","size":6,"thickness":2,"color":"#000000","clip":true},"encoding":{"x":{"field":"x","type":"quantitative","scale":{"type":"log","domain":[3.16,20.4],"nice":false},"axis":null},"y":{"field":"y","type":"quantitative","scale":{"domain":[0.616,1.56],"nice":false,"zero":false},"axis":null}}},
{"mark":{"type":"rule","strokeWidth":2.5,"clip":true},"encoding":{"x":{"field":"x","type":"quantitative","scale":{"type":"log","domain":[3.16,20.4],"nice":false},"axis":{"orient":"bottom","values":[4,5,6,7,8,9,10,20],"labels":false,"title":null,"tickColor":"#000000","tickWidth":2,"tickSize":{"condition":{"test":"datum.value==5||datum.value==10","value":-14},"value":-7}}},"y":{"field":"ylo","type":"quantitative","scale":{"domain":[0.616,1.56],"nice":false,"zero":false},"axis":{"orient":"left","values":[0.65,0.7,0.75,0.8,0.85,0.9,0.95,1,1.05,1.1,1.15,1.2,1.25,1.3,1.35,1.4,1.45,1.5],"labels":false,"title":null,"tickColor":"#000000","tickWidth":2,"tickSize":{"condition":{"test":"datum.value==0.8||datum.value==1||datum.value==1.2||datum.value==1.4","value":-14},"value":-7}}},"y2":{"field":"yhi"},"color":{"field":"s","type":"nominal","scale":{"domain":["k","r","b"],"range":["#000000","#ff0000","#0000ff"]},"legend":null}}},
{"transform":[{"filter":"isValid(datum.xlo)"}],"mark":{"type":"rule","strokeWidth":2.5,"clip":true},"encoding":{"x":{"field":"xlo","type":"quantitative","scale":{"type":"log","domain":[3.16,20.4],"nice":false},"axis":{"orient":"top","values":[4,5,6,7,8,9,10,20],"labels":false,"title":null,"tickColor":"#000000","tickWidth":2,"tickSize":{"condition":{"test":"datum.value==5||datum.value==10","value":-14},"value":-7}}},"x2":{"field":"xhi"},"y":{"field":"y","type":"quantitative","scale":{"domain":[0.616,1.56],"nice":false,"zero":false},"axis":{"orient":"right","values":[0.65,0.7,0.75,0.8,0.85,0.9,0.95,1,1.05,1.1,1.15,1.2,1.25,1.3,1.35,1.4,1.45,1.5],"labelExpr":"datum.value==0.8?'0.8':datum.value==1?'1':datum.value==1.2?'1.2':datum.value==1.4?'1.4':''","labelFont":"DejaVu Serif","labelFontSize":20,"labelColor":"#000000","labelPadding":27,"labelAlign":"left","labelBaseline":"middle","labelOverlap":false,"title":"Ratio","titleFont":"DejaVu Serif","titleFontSize":30,"titleFontWeight":"normal","titleColor":"#000000","titleAngle":270,"titleBaseline":"top","titlePadding":12,"tickColor":"#000000","tickWidth":2,"tickSize":{"condition":{"test":"datum.value==0.8||datum.value==1||datum.value==1.2||datum.value==1.4","value":-14},"value":-7}}},"color":{"field":"s","type":"nominal","scale":{"domain":["k","r","b"],"range":["#000000","#ff0000","#0000ff"]},"legend":null}}},
{"data":{"name":"unity"},"mark":{"type":"rule","color":"#00c000","strokeWidth":3,"strokeDash":[43,13]},"encoding":{"y":{"field":"v","type":"quantitative","scale":{"domain":[0.616,1.56],"nice":false,"zero":false},"axis":null}}},
{"data":{"name":"labels"},"transform":[{"filter":"datum.p=='E'"}],"mark":{"type":"text","font":"Liberation Sans","fontSize":35,"align":"center","baseline":"alphabetic","color":"#000000"},"encoding":{"x":{"field":"x","type":"quantitative","scale":{"type":"log","domain":[3.16,20.4],"nice":false},"axis":null},"y":{"field":"y","type":"quantitative","scale":{"domain":[0.616,1.56],"nice":false,"zero":false},"axis":null},"text":{"field":"t"}}}
],"resolve":{"axis":{"x":"independent","y":"independent"}}},
{"width":511,"height":236,"data":{"name":"D"},"layer":[
{"transform":[{"filter":"!isValid(datum.xlo)"}],"mark":{"type":"tick","orient":"horizontal","size":6,"thickness":2,"color":"#000000","clip":true},"encoding":{"x":{"field":"x","type":"quantitative","scale":{"type":"log","domain":[3.16,20.4],"nice":false},"axis":null},"y":{"field":"y","type":"quantitative","scale":{"domain":[0.616,1.56],"nice":false,"zero":false},"axis":null}}},
{"mark":{"type":"rule","strokeWidth":2.5,"clip":true},"encoding":{"x":{"field":"x","type":"quantitative","scale":{"type":"log","domain":[3.16,20.4],"nice":false},"axis":{"orient":"bottom","values":[4,5,6,7,8,9,10,20],"labels":false,"title":null,"tickColor":"#000000","tickWidth":2,"tickSize":{"condition":{"test":"datum.value==5||datum.value==10","value":-14},"value":-7}}},"y":{"field":"ylo","type":"quantitative","scale":{"domain":[0.616,1.56],"nice":false,"zero":false},"axis":{"orient":"left","values":[0.65,0.7,0.75,0.8,0.85,0.9,0.95,1,1.05,1.1,1.15,1.2,1.25,1.3,1.35,1.4,1.45,1.5],"labels":false,"title":null,"tickColor":"#000000","tickWidth":2,"tickSize":{"condition":{"test":"datum.value==0.8||datum.value==1||datum.value==1.2||datum.value==1.4","value":-14},"value":-7}}},"y2":{"field":"yhi"},"color":{"field":"s","type":"nominal","scale":{"domain":["k","r","b"],"range":["#000000","#ff0000","#0000ff"]},"legend":null}}},
{"transform":[{"filter":"isValid(datum.xlo)"}],"mark":{"type":"rule","strokeWidth":2.5,"clip":true},"encoding":{"x":{"field":"xlo","type":"quantitative","scale":{"type":"log","domain":[3.16,20.4],"nice":false},"axis":{"orient":"top","values":[4,5,6,7,8,9,10,20],"labels":false,"title":null,"tickColor":"#000000","tickWidth":2,"tickSize":{"condition":{"test":"datum.value==5||datum.value==10","value":-14},"value":-7}}},"x2":{"field":"xhi"},"y":{"field":"y","type":"quantitative","scale":{"domain":[0.616,1.56],"nice":false,"zero":false},"axis":{"orient":"right","values":[0.65,0.7,0.75,0.8,0.85,0.9,0.95,1,1.05,1.1,1.15,1.2,1.25,1.3,1.35,1.4,1.45,1.5],"labelExpr":"datum.value==0.8?'0.8':datum.value==1?'1':datum.value==1.2?'1.2':datum.value==1.4?'1.4':''","labelFont":"DejaVu Serif","labelFontSize":20,"labelColor":"#000000","labelPadding":27,"labelAlign":"left","labelBaseline":"middle","labelOverlap":false,"title":"Ratio","titleFont":"DejaVu Serif","titleFontSize":30,"titleFontWeight":"normal","titleColor":"#000000","titleAngle":270,"titleBaseline":"top","titlePadding":12,"tickColor":"#000000","tickWidth":2,"tickSize":{"condition":{"test":"datum.value==0.8||datum.value==1||datum.value==1.2||datum.value==1.4","value":-14},"value":-7}}},"color":{"field":"s","type":"nominal","scale":{"domain":["k","r","b"],"range":["#000000","#ff0000","#0000ff"]},"legend":null}}},
{"data":{"name":"unity"},"mark":{"type":"rule","color":"#00c000","strokeWidth":3,"strokeDash":[43,13]},"encoding":{"y":{"field":"v","type":"quantitative","scale":{"domain":[0.616,1.56],"nice":false,"zero":false},"axis":null}}},
{"data":{"name":"labels"},"transform":[{"filter":"datum.p=='D'"}],"mark":{"type":"text","font":"Liberation Sans","fontSize":35,"align":"center","baseline":"alphabetic","color":"#000000"},"encoding":{"x":{"field":"x","type":"quantitative","scale":{"type":"log","domain":[3.16,20.4],"nice":false},"axis":null},"y":{"field":"y","type":"quantitative","scale":{"domain":[0.616,1.56],"nice":false,"zero":false},"axis":null},"text":{"field":"t"}}}
],"resolve":{"axis":{"x":"independent","y":"independent"}}},
{"width":511,"height":236,"data":{"name":"C"},"layer":[
{"transform":[{"filter":"!isValid(datum.xlo)"}],"mark":{"type":"tick","orient":"horizontal","size":6,"thickness":2,"color":"#000000","clip":true},"encoding":{"x":{"field":"x","type":"quantitative","scale":{"type":"log","domain":[3.16,20.4],"nice":false},"axis":null},"y":{"field":"y","type":"quantitative","scale":{"domain":[0.616,1.56],"nice":false,"zero":false},"axis":null}}},
{"mark":{"type":"rule","strokeWidth":2.5,"clip":true},"encoding":{"x":{"field":"x","type":"quantitative","scale":{"type":"log","domain":[3.16,20.4],"nice":false},"axis":{"orient":"bottom","values":[4,5,6,7,8,9,10,20],"labels":false,"title":null,"tickColor":"#000000","tickWidth":2,"tickSize":{"condition":{"test":"datum.value==5||datum.value==10","value":-14},"value":-7}}},"y":{"field":"ylo","type":"quantitative","scale":{"domain":[0.616,1.56],"nice":false,"zero":false},"axis":{"orient":"left","values":[0.65,0.7,0.75,0.8,0.85,0.9,0.95,1,1.05,1.1,1.15,1.2,1.25,1.3,1.35,1.4,1.45,1.5],"labels":false,"title":null,"tickColor":"#000000","tickWidth":2,"tickSize":{"condition":{"test":"datum.value==0.8||datum.value==1||datum.value==1.2||datum.value==1.4","value":-14},"value":-7}}},"y2":{"field":"yhi"},"color":{"field":"s","type":"nominal","scale":{"domain":["k","r","b"],"range":["#000000","#ff0000","#0000ff"]},"legend":null}}},
{"transform":[{"filter":"isValid(datum.xlo)"}],"mark":{"type":"rule","strokeWidth":2.5,"clip":true},"encoding":{"x":{"field":"xlo","type":"quantitative","scale":{"type":"log","domain":[3.16,20.4],"nice":false},"axis":{"orient":"top","values":[4,5,6,7,8,9,10,20],"labels":false,"title":null,"tickColor":"#000000","tickWidth":2,"tickSize":{"condition":{"test":"datum.value==5||datum.value==10","value":-14},"value":-7}}},"x2":{"field":"xhi"},"y":{"field":"y","type":"quantitative","scale":{"domain":[0.616,1.56],"nice":false,"zero":false},"axis":{"orient":"right","values":[0.65,0.7,0.75,0.8,0.85,0.9,0.95,1,1.05,1.1,1.15,1.2,1.25,1.3,1.35,1.4,1.45,1.5],"labelExpr":"datum.value==0.8?'0.8':datum.value==1?'1':datum.value==1.2?'1.2':datum.value==1.4?'1.4':''","labelFont":"DejaVu Serif","labelFontSize":20,"labelColor":"#000000","labelPadding":27,"labelAlign":"left","labelBaseline":"middle","labelOverlap":false,"title":"Ratio","titleFont":"DejaVu Serif","titleFontSize":30,"titleFontWeight":"normal","titleColor":"#000000","titleAngle":270,"titleBaseline":"top","titlePadding":12,"tickColor":"#000000","tickWidth":2,"tickSize":{"condition":{"test":"datum.value==0.8||datum.value==1||datum.value==1.2||datum.value==1.4","value":-14},"value":-7}}},"color":{"field":"s","type":"nominal","scale":{"domain":["k","r","b"],"range":["#000000","#ff0000","#0000ff"]},"legend":null}}},
{"data":{"name":"unity"},"mark":{"type":"rule","color":"#00c000","strokeWidth":3,"strokeDash":[43,13]},"encoding":{"y":{"field":"v","type":"quantitative","scale":{"domain":[0.616,1.56],"nice":false,"zero":false},"axis":null}}},
{"data":{"name":"labels"},"transform":[{"filter":"datum.p=='C'"}],"mark":{"type":"text","font":"Liberation Sans","fontSize":35,"align":"center","baseline":"alphabetic","color":"#000000"},"encoding":{"x":{"field":"x","type":"quantitative","scale":{"type":"log","domain":[3.16,20.4],"nice":false},"axis":null},"y":{"field":"y","type":"quantitative","scale":{"domain":[0.616,1.56],"nice":false,"zero":false},"axis":null},"text":{"field":"t"}}}
],"resolve":{"axis":{"x":"independent","y":"independent"}}},
{"width":511,"height":236,"data":{"name":"B"},"layer":[
{"transform":[{"filter":"!isValid(datum.xlo)"}],"mark":{"type":"tick","orient":"horizontal","size":6,"thickness":2,"color":"#000000","clip":true},"encoding":{"x":{"field":"x","type":"quantitative","scale":{"type":"log","domain":[3.16,20.4],"nice":false},"axis":null},"y":{"field":"y","type":"quantitative","scale":{"domain":[0.616,1.56],"nice":false,"zero":false},"axis":null}}},
{"mark":{"type":"rule","strokeWidth":2.5,"clip":true},"encoding":{"x":{"field":"x","type":"quantitative","scale":{"type":"log","domain":[3.16,20.4],"nice":false},"axis":{"orient":"bottom","values":[4,5,6,7,8,9,10,20],"labels":false,"title":null,"tickColor":"#000000","tickWidth":2,"tickSize":{"condition":{"test":"datum.value==5||datum.value==10","value":-14},"value":-7}}},"y":{"field":"ylo","type":"quantitative","scale":{"domain":[0.616,1.56],"nice":false,"zero":false},"axis":{"orient":"left","values":[0.65,0.7,0.75,0.8,0.85,0.9,0.95,1,1.05,1.1,1.15,1.2,1.25,1.3,1.35,1.4,1.45,1.5],"labels":false,"title":null,"tickColor":"#000000","tickWidth":2,"tickSize":{"condition":{"test":"datum.value==0.8||datum.value==1||datum.value==1.2||datum.value==1.4","value":-14},"value":-7}}},"y2":{"field":"yhi"},"color":{"field":"s","type":"nominal","scale":{"domain":["k","r","b"],"range":["#000000","#ff0000","#0000ff"]},"legend":null}}},
{"transform":[{"filter":"isValid(datum.xlo)"}],"mark":{"type":"rule","strokeWidth":2.5,"clip":true},"encoding":{"x":{"field":"xlo","type":"quantitative","scale":{"type":"log","domain":[3.16,20.4],"nice":false},"axis":{"orient":"top","values":[4,5,6,7,8,9,10,20],"labels":false,"title":null,"tickColor":"#000000","tickWidth":2,"tickSize":{"condition":{"test":"datum.value==5||datum.value==10","value":-14},"value":-7}}},"x2":{"field":"xhi"},"y":{"field":"y","type":"quantitative","scale":{"domain":[0.616,1.56],"nice":false,"zero":false},"axis":{"orient":"right","values":[0.65,0.7,0.75,0.8,0.85,0.9,0.95,1,1.05,1.1,1.15,1.2,1.25,1.3,1.35,1.4,1.45,1.5],"labelExpr":"datum.value==0.8?'0.8':datum.value==1?'1':datum.value==1.2?'1.2':datum.value==1.4?'1.4':''","labelFont":"DejaVu Serif","labelFontSize":20,"labelColor":"#000000","labelPadding":27,"labelAlign":"left","labelBaseline":"middle","labelOverlap":false,"title":"Ratio","titleFont":"DejaVu Serif","titleFontSize":30,"titleFontWeight":"normal","titleColor":"#000000","titleAngle":270,"titleBaseline":"top","titlePadding":12,"tickColor":"#000000","tickWidth":2,"tickSize":{"condition":{"test":"datum.value==0.8||datum.value==1||datum.value==1.2||datum.value==1.4","value":-14},"value":-7}}},"color":{"field":"s","type":"nominal","scale":{"domain":["k","r","b"],"range":["#000000","#ff0000","#0000ff"]},"legend":null}}},
{"data":{"name":"unity"},"mark":{"type":"rule","color":"#00c000","strokeWidth":3,"strokeDash":[43,13]},"encoding":{"y":{"field":"v","type":"quantitative","scale":{"domain":[0.616,1.56],"nice":false,"zero":false},"axis":null}}},
{"data":{"name":"labels"},"transform":[{"filter":"datum.p=='B'"}],"mark":{"type":"text","font":"Liberation Sans","fontSize":35,"align":"center","baseline":"alphabetic","color":"#000000"},"encoding":{"x":{"field":"x","type":"quantitative","scale":{"type":"log","domain":[3.16,20.4],"nice":false},"axis":null},"y":{"field":"y","type":"quantitative","scale":{"domain":[0.616,1.56],"nice":false,"zero":false},"axis":null},"text":{"field":"t"}}}
],"resolve":{"axis":{"x":"independent","y":"independent"}}},
{"width":511,"height":236,"data":{"name":"A"},"layer":[
{"transform":[{"filter":"!isValid(datum.xlo)"}],"mark":{"type":"tick","orient":"horizontal","size":6,"thickness":2,"color":"#000000","clip":true},"encoding":{"x":{"field":"x","type":"quantitative","scale":{"type":"log","domain":[3.16,20.4],"nice":false},"axis":null},"y":{"field":"y","type":"quantitative","scale":{"domain":[0.616,1.56],"nice":false,"zero":false},"axis":null}}},
{"mark":{"type":"rule","strokeWidth":2.5,"clip":true},"encoding":{"x":{"field":"x","type":"quantitative","scale":{"type":"log","domain":[3.16,20.4],"nice":false},"axis":{"orient":"bottom","values":[4,5,6,7,8,9,10,20],"labelExpr":"datum.value==5?'5':datum.value==10?'10':''","labelFont":"DejaVu Serif","labelFontSize":20,"labelColor":"#000000","labelPadding":22,"labelOverlap":false,"labelFlush":false,"title":"Rest−frame energy (keV)","titleFont":"DejaVu Serif","titleFontSize":32,"titleFontWeight":"normal","titleColor":"#000000","titlePadding":-3,"tickColor":"#000000","tickWidth":2,"tickSize":{"condition":{"test":"datum.value==5||datum.value==10","value":-14},"value":-7}}},"y":{"field":"ylo","type":"quantitative","scale":{"domain":[0.616,1.56],"nice":false,"zero":false},"axis":{"orient":"left","values":[0.65,0.7,0.75,0.8,0.85,0.9,0.95,1,1.05,1.1,1.15,1.2,1.25,1.3,1.35,1.4,1.45,1.5],"labels":false,"title":null,"tickColor":"#000000","tickWidth":2,"tickSize":{"condition":{"test":"datum.value==0.8||datum.value==1||datum.value==1.2||datum.value==1.4","value":-14},"value":-7}}},"y2":{"field":"yhi"},"color":{"field":"s","type":"nominal","scale":{"domain":["k","r","b"],"range":["#000000","#ff0000","#0000ff"]},"legend":null}}},
{"transform":[{"filter":"isValid(datum.xlo)"}],"mark":{"type":"rule","strokeWidth":2.5,"clip":true},"encoding":{"x":{"field":"xlo","type":"quantitative","scale":{"type":"log","domain":[3.16,20.4],"nice":false},"axis":{"orient":"top","values":[4,5,6,7,8,9,10,20],"labels":false,"title":null,"tickColor":"#000000","tickWidth":2,"tickSize":{"condition":{"test":"datum.value==5||datum.value==10","value":-14},"value":-7}}},"x2":{"field":"xhi"},"y":{"field":"y","type":"quantitative","scale":{"domain":[0.616,1.56],"nice":false,"zero":false},"axis":{"orient":"right","values":[0.65,0.7,0.75,0.8,0.85,0.9,0.95,1,1.05,1.1,1.15,1.2,1.25,1.3,1.35,1.4,1.45,1.5],"labelExpr":"datum.value==0.8?'0.8':datum.value==1?'1':datum.value==1.2?'1.2':datum.value==1.4?'1.4':''","labelFont":"DejaVu Serif","labelFontSize":20,"labelColor":"#000000","labelPadding":27,"labelAlign":"left","labelBaseline":"middle","labelOverlap":false,"title":"Ratio","titleFont":"DejaVu Serif","titleFontSize":30,"titleFontWeight":"normal","titleColor":"#000000","titleAngle":270,"titleBaseline":"top","titlePadding":12,"tickColor":"#000000","tickWidth":2,"tickSize":{"condition":{"test":"datum.value==0.8||datum.value==1||datum.value==1.2||datum.value==1.4","value":-14},"value":-7}}},"color":{"field":"s","type":"nominal","scale":{"domain":["k","r","b"],"range":["#000000","#ff0000","#0000ff"]},"legend":null}}},
{"data":{"name":"unity"},"mark":{"type":"rule","color":"#00c000","strokeWidth":3,"strokeDash":[43,13]},"encoding":{"y":{"field":"v","type":"quantitative","scale":{"domain":[0.616,1.56],"nice":false,"zero":false},"axis":null}}},
{"data":{"name":"labels"},"transform":[{"filter":"datum.p=='A'"}],"mark":{"type":"text","font":"Liberation Sans","fontSize":35,"align":"center","baseline":"alphabetic","color":"#000000"},"encoding":{"x":{"field":"x","type":"quantitative","scale":{"type":"log","domain":[3.16,20.4],"nice":false},"axis":null},"y":{"field":"y","type":"quantitative","scale":{"domain":[0.616,1.56],"nice":false,"zero":false},"axis":null},"text":{"field":"t"}}}
],"resolve":{"axis":{"x":"independent","y":"independent"}}}
]
}
